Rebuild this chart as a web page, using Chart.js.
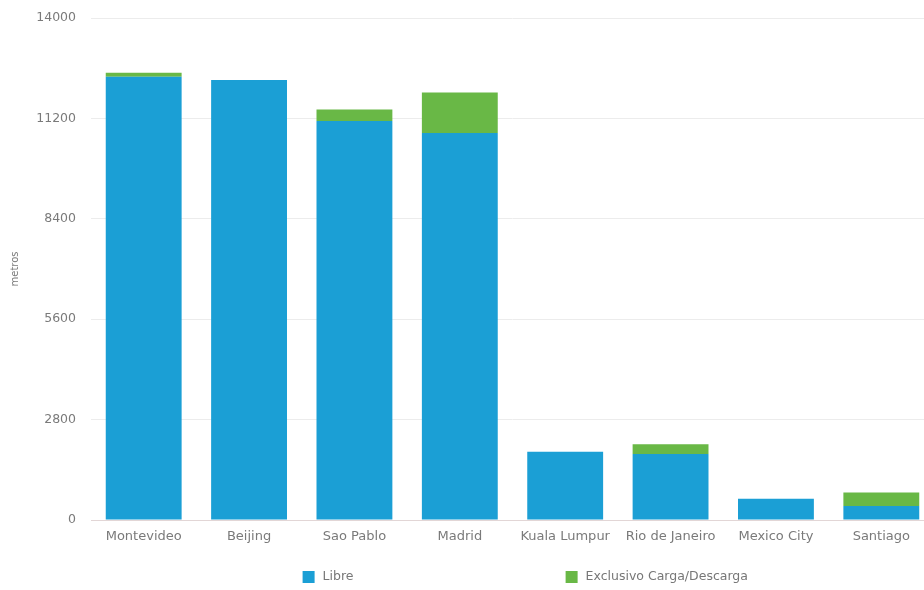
<!DOCTYPE html>
<html>
<head>
<meta charset="utf-8">
<script src="https://cdn.jsdelivr.net/npm/chart.js@4/dist/chart.umd.min.js"></script>
<style>
  html, body { margin: 0; padding: 0; background: #fff; overflow: hidden; }
  #wrap { position: relative; width: 936px; height: 590px; }
</style>
</head>
<body>
<div id="wrap"><canvas id="c"></canvas></div>
<script>
const categories = ["Montevideo", "Beijing", "Sao Pablo", "Madrid", "Kuala Lumpur", "Rio de Janeiro", "Mexico City", "Santiago"];
const libre = [12360, 12270, 11130, 10790, 1900, 1840, 590, 390];
const exclusivo = [110, 0, 320, 1130, 0, 270, 0, 380];
const seriesNames = ["Libre", "Exclusivo Carga/Descarga"];
const yTicks = [0, 2800, 5600, 8400, 11200, 14000];
const axisTitle = "metros";

const FONT = "'DejaVu Sans', sans-serif";

const customLegend = {
  id: 'customLegend',
  afterDraw(chart) {
    const ctx = chart.ctx;
    const area = chart.chartArea;
    const fr = [0.251, 0.563];
    ctx.save();
    ctx.font = "12.5px " + FONT;
    ctx.textBaseline = 'middle';
    ctx.textAlign = 'left';
    chart.data.datasets.forEach((ds, i) => {
      const x = area.left + area.width * fr[i];
      const y = 577;
      ctx.fillStyle = ds.backgroundColor;
      ctx.fillRect(x, y - 6, 12, 12);
      ctx.fillStyle = '#777';
      ctx.fillText(ds.label, x + 20, y);
    });
    ctx.restore();
  }
};

new Chart(document.getElementById('c'), {
  type: 'bar',
  data: {
    labels: categories,
    datasets: [
      { label: seriesNames[0], data: libre, backgroundColor: '#1b9fd5', borderWidth: 0 },
      { label: seriesNames[1], data: exclusivo, backgroundColor: '#69b846', borderWidth: 0 }
    ]
  },
  options: {
    responsive: true,
    maintainAspectRatio: false,
    animation: false,
    layout: { padding: { top: 18, right: 2, left: 0, bottom: 0 } },
    plugins: {
      legend: { display: false },
      tooltip: { enabled: false }
    },
    scales: {
      x: {
        stacked: true,
        categoryPercentage: 1.0,
        barPercentage: 0.7,
        grid: { display: false, drawTicks: false },
        border: { display: true, color: '#e2d6d6', width: 1 },
        ticks: { color: '#7a7a7a', font: { family: FONT, size: 13 }, padding: 9, maxRotation: 0, autoSkip: false },
        afterFit(scale) { scale.height = 70; }
      },
      y: {
        stacked: true,
        min: 0,
        max: 14000,
        afterBuildTicks(scale) { scale.ticks = yTicks.map(v => ({ value: v })); },
        grid: { color: '#ececec', drawTicks: false },
        border: { display: false },
        ticks: { color: '#7a7a7a', font: { family: FONT, size: 12.5 }, padding: 15, callback: (v) => String(v) },
        title: { display: true, text: axisTitle, color: '#7a7a7a', font: { family: FONT, size: 10 }, padding: { top: 9, bottom: 0 } },
        afterFit(scale) { scale.width = 91; scale.paddingTop = 0; scale.paddingBottom = 0; }
      }
    }
  },
  plugins: [customLegend]
});
</script>
</body>
</html>
